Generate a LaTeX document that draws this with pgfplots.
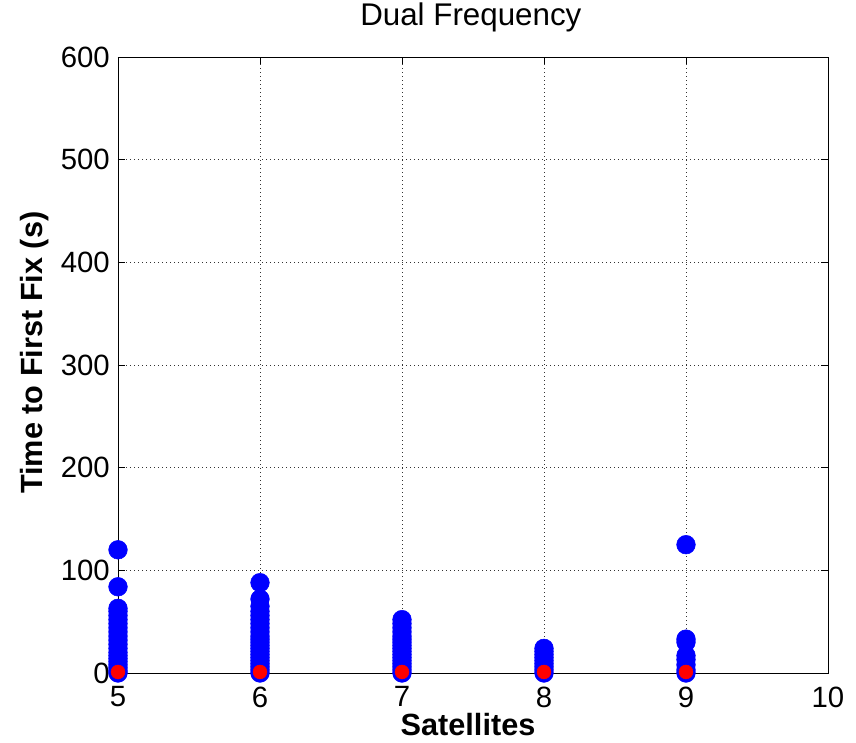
\documentclass[border=0pt]{standalone}
\usepackage{pgfplots}
\pgfplotsset{compat=1.18}
\usepackage{fontspec}
\setmainfont{Liberation Sans}
\begin{document}
\begin{tikzpicture}
\useasboundingbox (-88.5pt,-51.75pt) rectangle (553.5pt,504.75pt);
\begin{axis}[
  at={(0pt,0pt)}, anchor=south west,
  scale only axis,
  width=532.5pt, height=462pt,
  xmin=5, xmax=10, ymin=0, ymax=600,
  xtick={5,6,7,8,9,10}, ytick={0,100,...,600},
  grid=major, major grid style={black!80, line width=0.7pt, dash pattern=on 0.75pt off 2.25pt},
  tick align=inside, tick pos=both,
  major tick length=5pt,
  axis line style={black, line width=0.7pt},
  tick style={black, line width=0.7pt},
  axis on top,
  /pgf/number format/assume math mode=true,
  ticklabel style={font=\fontsize{22}{24}\selectfont, inner sep=0pt},
  xticklabel style={anchor=north, yshift=-10pt},
  yticklabel style={anchor=east, xshift=-6pt},
  title={Dual Frequency},
  title style={font=\fontsize{23.5}{25}\selectfont, at={(axis description cs:0.497,1)}, anchor=base, yshift=18pt, inner sep=0pt},
  xlabel={\textbf{Satellites}},
  ylabel={\textbf{Time to First Fix (s)}},
  label style={font=\fontsize{23}{25}\selectfont},
  xlabel style={at={(axis description cs:0.493,-0.083)}, anchor=center},
  ylabel style={at={(axis description cs:-0.117,0.52)}, anchor=center},
  clip=false,
]
\addplot[only marks, mark=*, mark size=7pt, color=blue, mark options={fill=blue, draw=blue}] coordinates {
(5,0)(5,2)(5,5)(5,8)(5,11)(5,14)(5,17)(5,20)(5,24)(5,28)(5,32)(5,36)(5,40)(5,44)(5,48)(5,52)(5,56)(5,60)(5,63)(5,84)(5,120)
(6,0)(6,3)(6,6)(6,9)(6,12)(6,15)(6,18)(6,21)(6,24)(6,27)(6,30)(6,33)(6,36)(6,40)(6,44)(6,48)(6,52)(6,56)(6,60)(6,65)(6,72)(6,88)
(7,0)(7,3)(7,6)(7,9)(7,12)(7,15)(7,18)(7,21)(7,24)(7,27)(7,30)(7,33)(7,36)(7,40)(7,44)(7,48)(7,52)
(8,0)(8,3)(8,6)(8,9)(8,12)(8,15)(8,18)(8,21)(8,24)
(9,0)(9,3)(9,8)(9,13)(9,17)(9,30)(9,33)(9,125)
};
\addplot[only marks, mark=*, mark size=5.2pt, color=red, mark options={fill=red, draw=red}] coordinates {
(5,1)(6,1)(7,1)(8,1)(9,1)
};
\end{axis}
\end{tikzpicture}
\end{document}
